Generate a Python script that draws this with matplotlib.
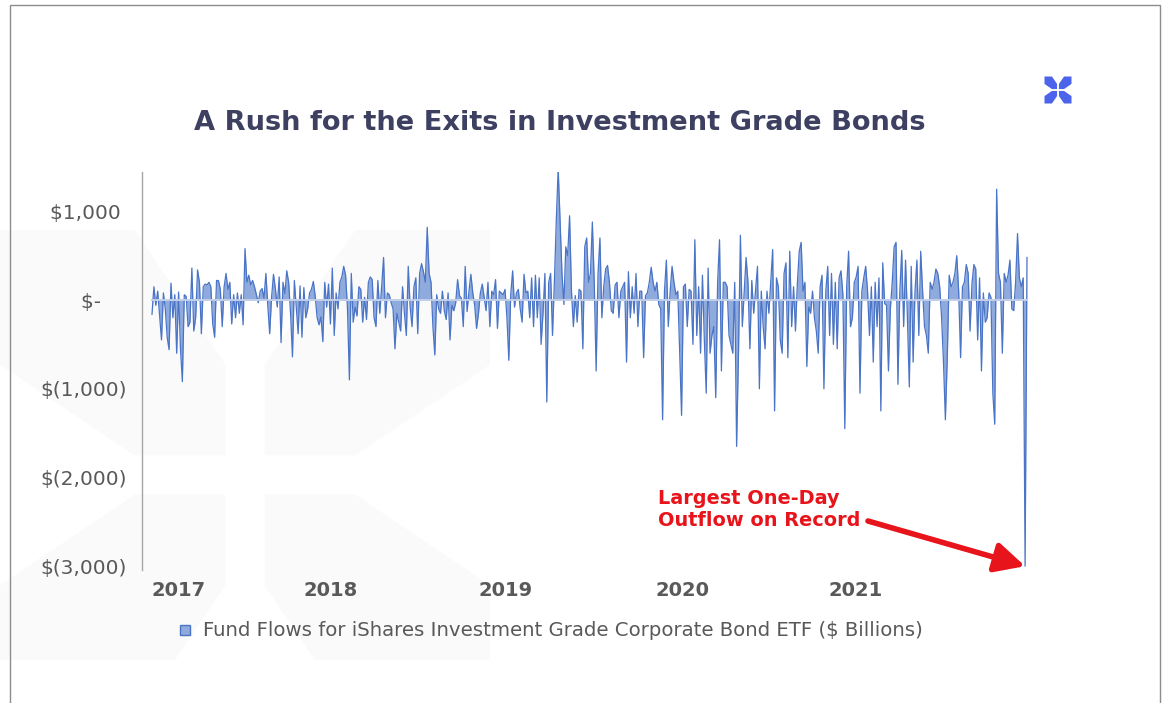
import matplotlib
matplotlib.use("Agg")
import matplotlib.pyplot as plt
import numpy as np
from matplotlib.patches import Polygon, Rectangle

# daily net flows ($ billions), read left to right
flows_2017_18 = [
    -160, 150, -60, 100, -180, -450, 80, -100, -420, -560,
    190, -200, 60, -600, 90, -550, -920, 60, 40, -300,
    -250, 360, -350, -200, 340, 200, -380, 150, 180, 170,
    200, 150, -270, -420, 220, 220, 120, -300, 150, 300,
    120, 200, -270, 60, -200, 80, -150, 60, -280, 580,
    200, 280, 170, 220, 150, 60, -30, 100, 130, 20,
    300, -60, -380, 30, 290, 130, -80, 260, -480, 200,
    70, 330, 200, -150, -640, 220, -80, -380, 160, -420,
    140, -200, -100, 80, 120, 210, 40, -200, -280, -190,
    -470, 200, -80, 180, -270, 360, -400, 80, -100, 200,
    260, 380, 280, -100, -900, 300, -250, -80, -180, 150,
    120, -250, 30, -220, 200, 260, 230, -200, -300, 220,
    -150, 150, 480, -200, 80, 60, -30, -100, -550, -150,
    -250, -350, 150, -150, -400, 380, -80, -300, 150, 250,
    -380, 300, 410, 320, 200, 820, 300, 200, -300, -620,
    60, -100, -150, 100, -120, -220, 80,
]
flows_2018_20 = [
    -450, -60, -120, -30, 230, 50, 20, -300, 380, -130,
    100, 290, 80, -60, -320, -150, 80, 180, 30, -120,
    200, -300, 100, 60, 230, -320, 100, 80, 60, 120,
    -200, -680, 60, 330, -80, 80, 120, -100, -250, 290,
    80, 100, -200, 250, -300, 280, -200, 250, -500, -150,
    300, -1150, 200, 300, -400, 200, 900, 1480, 900, 300,
    -50, 600, 500, 950, 100, -300, 50, -250, 120, 100,
    -550, 600, 700, 200, 300, 880, 200, -800, 300, 700,
    -200, 150, 350, 390, 200, -120, -150, 170, 200, -200,
    100, 150, 200, -700, 320, -200, 150, -150, 300, -300,
    100, 100, -650, 50, 80, 200, 370, 200, 100, 200,
    -50, -100, -1350, 100, 450, -300, 100, 380, 200, 60,
    100, -580, -1300, 150, 180, -300, 120, 100, -500, 680,
    -400, 150, -600, 280, -450, -1050, 360, -600, -400, -300,
    -1100, 200, 680, -800, 200, 200, 150, -400, -500, -600,
    200, -1650, -600, 730,
]
flows_2020_21 = [
    -300, 80, 480, 200, -550, 220, -150, 120, 380, -1000,
    100, -300, -550, 100, -150, 200, 570, -1250, 250, 150,
    -450, -600, 300, 420, -650, 550, -300, 150, -350, 180,
    550, 650, 100, 200, -750, -80, -150, 100, -200, -350,
    -600, 150, 280, -1000, 100, 380, -400, 300, -500, 200,
    -550, 250, 330, 60, -1450, 150, 550, -300, -200, 200,
    260, 380, -1050, 100, 250, 380, 100, -400, 150, -700,
    200, -300, 250, -1250, 420, -40, -60, -800, -100, 200,
    600, 650, -950, 100, 560, -300, 450, -200, -980, 380,
    -700, 100, 450, -400, 550, 100, -300, -400, -600, 200,
    120, 200, 350, 300, 150, -200, -700, -1350, -650, 280,
    150, 200, 300, 500, 100, -650, 150, 200, 400, 300,
    -350, 180, 400, 350, -450, 250, -800, 80, -250, -200,
    80, 30, -1050, -1400, 1250, 300, 200, -600, 300, 200,
    280, 450, -100, -120, 200, 750, 250, 150, 250, -3000,
    480,
]

year_labels = ["2017", "2018", "2019", "2020", "2021"]
year_ticks = [2017.15, 2018.02, 2019.02, 2020.03, 2021.02]
y_ticks = [1000, 0, -1000, -2000, -3000]
y_tick_labels = ["$1,000 ", "$-    ", "$(1,000)", "$(2,000)", "$(3,000)"]

title = "A Rush for the Exits in Investment Grade Bonds"
legend_label = "Fund Flows for iShares Investment Grade Corporate Bond ETF ($ Billions)"
callout = "Largest One-Day\nOutflow on Record"

flows = np.array(flows_2017_18 + flows_2018_20 + flows_2020_21, dtype=float)
t = np.linspace(2017.0, 2022.0, len(flows))

W, H = 1165, 703
fig = plt.figure(figsize=(W / 100, H / 100), dpi=100)


def fx(px):
    return px / W


def fy(py):
    return 1 - py / H


def chevrons(cx, cy, half, gap, color, z, clip=None):
    # four notched blocks forming an "X" mark
    base = [(1.0, 1.0), (0.45, 1.0), (gap, 0.45), (gap, gap), (0.45, gap), (1.0, 0.45)]
    for sx in (-1, 1):
        for sy in (-1, 1):
            pts = [(fx(cx + sx * x * half), fy(cy - sy * y * half)) for x, y in base]
            p = Polygon(pts, closed=True, facecolor=color, edgecolor="none",
                        transform=fig.transFigure, zorder=z)
            fig.patches.append(p)
            if clip is not None:
                p.set_clip_path(clip)


# faint background mark, cut off above the bottom margin
wm_clip = Rectangle((0, fy(660)), 1, fy(0) - fy(660), transform=fig.transFigure)
chevrons(245, 475, 245, 0.08, "#fafafa", -2, clip=wm_clip)
# corner logo
chevrons(1058, 90, 13.5, 0.07, "#4c63ec", 5)

# outer frame
fig.patches.append(Rectangle((fx(10), fy(712)), fx(1160) - fx(10), fy(5) - fy(712),
                             fill=False, edgecolor="#8c8c8c", lw=1,
                             transform=fig.transFigure, zorder=-1))

ax = fig.add_axes([fx(142), fy(570), fx(1040) - fx(142), (570 - 172) / H])
ax.set_zorder(2)
ax.patch.set_alpha(0)
ax.fill_between(t, flows, 0, color="#8faadc", lw=0, zorder=2)
ax.plot(t, flows, color="#4a74c6", lw=0.9, zorder=3)
ax.plot([t[0], t[-1]], [0, 0], color="#c3cfe9", lw=1.4, zorder=4)

ax.set_xlim(2017 - 10 / 175, 2017 + 888 / 175)
ax.set_ylim(-3043, 1443)
for side in ("top", "right", "bottom"):
    ax.spines[side].set_visible(False)
ax.spines["left"].set_color("#a6a6a6")
ax.spines["left"].set_linewidth(1)

ax.set_yticks(y_ticks)
ax.set_yticklabels(y_tick_labels, fontsize=14.5, color="#595959")
ax.tick_params(axis="y", length=0, pad=11)
ax.set_xticks(year_ticks)
ax.set_xticklabels(year_labels, fontsize=14, fontweight="bold", color="#595959")
ax.tick_params(axis="x", length=0, pad=8)

# arrow to the record outflow
i_min = int(np.argmin(flows))
ax.annotate("", xy=(t[i_min], flows[i_min]), xycoords="data",
            xytext=(fx(868), fy(521)), textcoords="figure fraction",
            arrowprops=dict(arrowstyle="-|>,head_length=0.9,head_width=0.45",
                            color="#e8141b", lw=4, mutation_scale=20,
                            shrinkA=0, shrinkB=0), zorder=6)
fig.text(fx(658), fy(489), callout, ha="left", va="top", fontsize=13.9,
         fontweight="bold", color="#e8141b", linespacing=1.2)

fig.text(fx(560), fy(123), title, ha="center", va="center", fontsize=19.6,
         fontweight="bold", color="#3d4060")

# legend entry
fig.patches.append(Rectangle((fx(180), fy(635)), fx(10), 10 / H,
                             facecolor="#8faadc", edgecolor="#4a74c6", lw=1,
                             transform=fig.transFigure, zorder=5))
fig.text(fx(203), fy(630), legend_label, ha="left", va="center", fontsize=14.2,
         color="#595959")

fig.savefig("out.png", dpi=100)
